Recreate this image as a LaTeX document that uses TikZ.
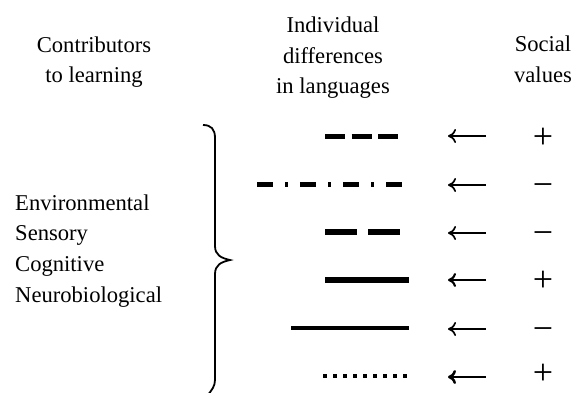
\documentclass[tikz,border=0pt]{standalone}
\usepackage{fontspec}
\setmainfont{Liberation Serif}
\usetikzlibrary{arrows.meta}
\begin{document}
\begin{tikzpicture}[x=1pt,y=-1pt,
  txt/.style={inner sep=0pt,anchor=base,font=\fontsize{22.6}{30}\selectfont},
  lefttxt/.style={inner sep=0pt,anchor=base west,font=\fontsize{22.6}{30}\selectfont},
  sign/.style={inner sep=0pt,anchor=base,text depth=0pt,font=\fontsize{36}{40}\selectfont},
  lin/.style={line cap=butt,black},
  arr/.style={line width=1.7pt,-{Computer Modern Rightarrow[length=8pt,width=14pt]}}]
\useasboundingbox[fill=white] (0,0) rectangle (572,392);
% headers
\node[txt] (h1a) at (94,52) {Contributors};
\node[txt] (h1b) at (94,82) {to learning};
\node[txt] (h2a) at (333,32) {Individual};
\node[txt] (h2b) at (333,63) {differences};
\node[txt] (h2c) at (333,93) {in languages};
\node[txt] (h3a) at (543,51) {Social};
\node[txt] (h3b) at (543,82) {values};
% contributors
\node[lefttxt] (c1) at (15,210) {Environmental};
\node[lefttxt] (c2) at (15,240.7) {Sensory};
\node[lefttxt] (c3) at (15,271.3) {Cognitive};
\node[lefttxt] (c4) at (15,302) {Neurobiological};
% brace
\draw[line width=1.8pt] (203,125) .. controls (211,125) and (215,129) .. (215,138)
  -- (215,246) .. controls (215,255) and (221,258) .. (230,260)
  .. controls (221,262) and (215,265) .. (215,274)
  -- (215,380) .. controls (215,386) and (212,390) .. (207,396);
% line coordinates
\coordinate (l1a) at (325,136); \coordinate (l1b) at (398,136);
\coordinate (l2a) at (257,184); \coordinate (l2b) at (403,184);
\coordinate (l3a) at (325,232); \coordinate (l3b) at (400,232);
\coordinate (l4a) at (325,280); \coordinate (l4b) at (409,280);
\coordinate (l5a) at (291,328); \coordinate (l5b) at (409,328);
\coordinate (l6a) at (323,376); \coordinate (l6b) at (407,376);
\draw[lin,line width=5pt,dash pattern=on 20pt off 6.5pt] (l1a) -- (l1b);
\draw[lin,line width=5pt,dash pattern=on 16pt off 12pt on 3pt off 12pt] (l2a) -- (l2b);
\draw[lin,line width=5.5pt,dash pattern=on 32pt off 11pt] (l3a) -- (l3b);
\draw[lin,line width=5.5pt] (l4a) -- (l4b);
\draw[lin,line width=3.8pt] (l5a) -- (l5b);
\draw[lin,line width=4.5pt,dash pattern=on 4pt off 6pt] (l6a) -- (l6b);
% arrows
\foreach \i/\y in {1/136,2/185,3/233,4/280,5/329,6/377}{
  \coordinate (a\i s) at (486,\y);
  \coordinate (a\i e) at (448,\y);
}
\draw[arr] (a1s) -- (a1e);
\draw[arr] (a2s) -- (a2e);
\draw[arr] (a3s) -- (a3e);
\draw[arr,line width=2.1pt] (a4s) -- (a4e);
\draw[arr] (a5s) -- (a5e);
\draw[arr,line width=2.5pt] (a6s) -- (a6e);
% social values
\node[sign] (s1) at (543,148) {+};
\node[sign] (s2) at (543,196) {−};
\node[sign] (s3) at (543,244) {−};
\node[sign] (s4) at (543,291) {+};
\node[sign] (s5) at (543,340) {−};
\node[sign] (s6) at (543,384) {+};
\end{tikzpicture}
\end{document}
